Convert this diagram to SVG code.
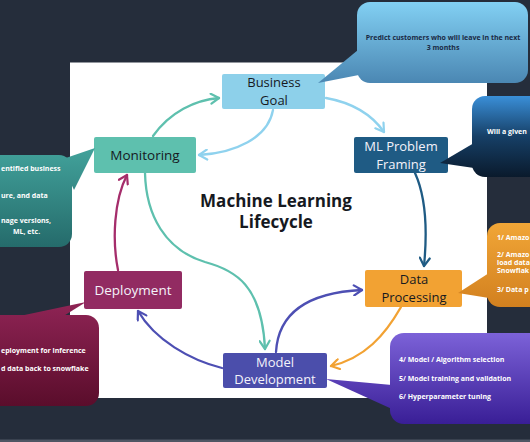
<svg xmlns="http://www.w3.org/2000/svg" width="530" height="442" viewBox="0 0 530 442">
<style>
.lbl{font-family:"Open Sans","Noto Sans",sans-serif;font-size:13px;text-anchor:middle}
.big{font-size:13.5px}
.dark{fill:#16191f}
.light{fill:#f4f2fa}
.title{font-family:"Open Sans","Noto Sans",sans-serif;font-size:17px;font-weight:bold;fill:#16191f;text-anchor:middle}
.ct{font-family:"Open Sans","Noto Sans",sans-serif;font-size:7px;font-weight:bold}
.conn{fill:none;stroke-width:2.3;stroke-linecap:round}
</style>
<defs>
<linearGradient id="gTop" gradientUnits="userSpaceOnUse" x1="0" y1="2" x2="0" y2="84"><stop offset="0" stop-color="#82d0f3"/><stop offset="1" stop-color="#4a86b2"/></linearGradient>
<linearGradient id="gNavy" gradientUnits="userSpaceOnUse" x1="0" y1="96" x2="0" y2="177"><stop offset="0" stop-color="#3a8fd8"/><stop offset="0.5" stop-color="#163f66"/><stop offset="1" stop-color="#0a1a2c"/></linearGradient>
<linearGradient id="gTeal" gradientUnits="userSpaceOnUse" x1="0" y1="148" x2="0" y2="247"><stop offset="0" stop-color="#42a29b"/><stop offset="1" stop-color="#256b6b"/></linearGradient>
<linearGradient id="gRed" gradientUnits="userSpaceOnUse" x1="0" y1="302" x2="0" y2="406"><stop offset="0" stop-color="#8f2455"/><stop offset="1" stop-color="#5a0d2b"/></linearGradient>
<linearGradient id="gOr" gradientUnits="userSpaceOnUse" x1="0" y1="223" x2="0" y2="307"><stop offset="0" stop-color="#f1a637"/><stop offset="1" stop-color="#d2801f"/></linearGradient>
<linearGradient id="gPur" gradientUnits="userSpaceOnUse" x1="0" y1="333" x2="0" y2="424"><stop offset="0" stop-color="#7c62d8"/><stop offset="1" stop-color="#391e96"/></linearGradient>
<marker id="mLB" viewBox="-10 -6 12 12" refX="0" refY="0" markerWidth="12" markerHeight="12" markerUnits="userSpaceOnUse" orient="auto"><path d="M-8,-5 L0,0 L-8,5" fill="none" stroke="#8fd2ee" stroke-width="2.2" stroke-linecap="round" stroke-linejoin="round"/></marker>
<marker id="mTe" viewBox="-10 -6 12 12" refX="0" refY="0" markerWidth="12" markerHeight="12" markerUnits="userSpaceOnUse" orient="auto"><path d="M-8,-5 L0,0 L-8,5" fill="none" stroke="#5ec0ae" stroke-width="2.2" stroke-linecap="round" stroke-linejoin="round"/></marker>
<marker id="mMa" viewBox="-10 -6 12 12" refX="0" refY="0" markerWidth="12" markerHeight="12" markerUnits="userSpaceOnUse" orient="auto"><path d="M-8,-5 L0,0 L-8,5" fill="none" stroke="#a52d6b" stroke-width="2.2" stroke-linecap="round" stroke-linejoin="round"/></marker>
<marker id="mIn" viewBox="-10 -6 12 12" refX="0" refY="0" markerWidth="12" markerHeight="12" markerUnits="userSpaceOnUse" orient="auto"><path d="M-8,-5 L0,0 L-8,5" fill="none" stroke="#4d4fb3" stroke-width="2.2" stroke-linecap="round" stroke-linejoin="round"/></marker>
<marker id="mOr" viewBox="-10 -6 12 12" refX="0" refY="0" markerWidth="12" markerHeight="12" markerUnits="userSpaceOnUse" orient="auto"><path d="M-8,-5 L0,0 L-8,5" fill="none" stroke="#f2a233" stroke-width="2.2" stroke-linecap="round" stroke-linejoin="round"/></marker>
<marker id="mDB" viewBox="-10 -6 12 12" refX="0" refY="0" markerWidth="12" markerHeight="12" markerUnits="userSpaceOnUse" orient="auto"><path d="M-8,-5 L0,0 L-8,5" fill="none" stroke="#1f5b84" stroke-width="2.2" stroke-linecap="round" stroke-linejoin="round"/></marker>
</defs>
<rect x="0" y="0" width="530" height="442" fill="#252d3b"/>
<rect x="0" y="439.5" width="530" height="3" fill="#4f5664"/>
<rect x="70" y="62.5" width="417" height="335.5" fill="#ffffff"/>
<text class="title" x="276" y="207">Machine Learning</text>
<text class="title" x="276" y="228">Lifecycle</text>
<g id="connectors">
<path class="conn" stroke="#8fd2ee" d="M326,98 Q365,105 384,132" marker-end="url(#mLB)"/>
<path class="conn" stroke="#8fd2ee" d="M273,110 C268,138 235,153 199,155" marker-end="url(#mLB)"/>
<path class="conn" stroke="#5ec0ae" d="M153,136 C170,112 195,100 219,98" marker-end="url(#mTe)"/>
<path class="conn" stroke="#5ec0ae" d="M145,173 C146,215 165,250 205,262 C235,270 262,285 265,349" marker-end="url(#mTe)"/>
<path class="conn" stroke="#a52d6b" d="M118,270 C112,240 114,200 127,175" marker-end="url(#mMa)"/>
<path class="conn" stroke="#4d4fb3" d="M222,368 C190,360 155,340 138,311" marker-end="url(#mIn)"/>
<path class="conn" stroke="#4d4fb3" d="M276,352 C278,318 300,293 362,290" marker-end="url(#mIn)"/>
<path class="conn" stroke="#f2a233" d="M401,307 C385,335 365,358 331,366" marker-end="url(#mOr)"/>
<path class="conn" stroke="#1f5b84" d="M415,173 C425,195 428,225 424,266" marker-end="url(#mDB)"/>
</g>
<g id="business-goal">
<rect x="222" y="74" width="103" height="35" rx="2" fill="#8dd0ea"/>
<text class="lbl dark" x="274" y="87.3">Business</text>
<text class="lbl dark" x="274" y="105">Goal</text>
</g>
<g id="ml-problem-framing">
<rect x="354" y="137" width="94" height="36" rx="2" fill="#1f5b84"/>
<text class="lbl light" x="401" y="151">ML Problem</text>
<text class="lbl light" x="401" y="168.7">Framing</text>
</g>
<g id="data-processing">
<rect x="365" y="270" width="97" height="37" rx="2" fill="#f2a233"/>
<text class="lbl dark" x="414" y="284">Data</text>
<text class="lbl dark" x="414" y="301.7">Processing</text>
</g>
<g id="model-development">
<rect x="223" y="353" width="104" height="35" rx="2" fill="#4b4eab"/>
<text class="lbl light" x="275" y="366.5">Model</text>
<text class="lbl light" x="275" y="384.2">Development</text>
</g>
<g id="deployment">
<rect x="84" y="271" width="98" height="38" rx="2" fill="#922b62"/>
<text class="lbl big light" x="133" y="295">Deployment</text>
</g>
<g id="monitoring">
<rect x="94" y="137" width="102" height="36" rx="2" fill="#5ec0ae"/>
<text class="lbl big dark" x="145" y="160">Monitoring</text>
</g>
<g id="callout-business">
<rect x="357" y="2" width="171" height="81" rx="13" fill="url(#gTop)"/>
<polygon points="358,50 318,83 364,74" fill="url(#gTop)"/>
<text class="ct" fill="#1a2a44" text-anchor="middle" x="443" y="40">Predict customers who will leave in the next</text>
<text class="ct" fill="#1a2a44" text-anchor="middle" x="443" y="50">3 months</text>
</g>
<g id="callout-framing">
<rect x="472" y="96" width="80" height="81" rx="13" fill="url(#gNavy)"/>
<polygon points="474,143 440,163 474,168" fill="url(#gNavy)"/>
<text class="ct" fill="#ffffff" x="487" y="134">Will a given</text>
</g>
<g id="callout-monitoring">
<rect x="-20" y="155" width="92" height="92" rx="13" fill="url(#gTeal)"/>
<polygon points="60,160 95,148 74,190" fill="url(#gTeal)"/>
<text class="ct" fill="#ffffff" x="1" y="171">entified business</text>
<text class="ct" fill="#ffffff" x="1" y="198">ure, and data</text>
<text class="ct" fill="#ffffff" x="1" y="223">nage versions,</text>
<text class="ct" fill="#ffffff" x="13" y="234">ML, etc.</text>
</g>
<g id="callout-deployment">
<rect x="-20" y="315" width="119" height="91" rx="13" fill="url(#gRed)"/>
<polygon points="15,317 86,302 62,317" fill="url(#gRed)"/>
<text class="ct" fill="#ffffff" x="1" y="353">eployment for inference</text>
<text class="ct" fill="#ffffff" x="1" y="371">d data back to snowflake</text>
</g>
<g id="callout-data">
<rect x="487" y="223" width="80" height="84" rx="13" fill="url(#gOr)"/>
<polygon points="489,273 458,293 489,298" fill="url(#gOr)"/>
<text class="ct" fill="#ffffff" x="497" y="240">1/ Amazo</text>
<text class="ct" fill="#ffffff" x="497" y="257">2/ Amazo</text>
<text class="ct" fill="#ffffff" x="497" y="265">load data</text>
<text class="ct" fill="#ffffff" x="497" y="273">Snowflak</text>
<text class="ct" fill="#ffffff" x="497" y="292">3/ Data p</text>
</g>
<g id="callout-model">
<rect x="390" y="333" width="160" height="91" rx="14" fill="url(#gPur)"/>
<polygon points="326,379 392,385 392,409" fill="url(#gPur)"/>
<text class="ct" fill="#ffffff" x="399" y="362">4/ Model / Algorithm selection</text>
<text class="ct" fill="#ffffff" x="399" y="381">5/ Model training and validation</text>
<text class="ct" fill="#ffffff" x="399" y="399">6/ Hyperparameter tuning</text>
</g>
</svg>
